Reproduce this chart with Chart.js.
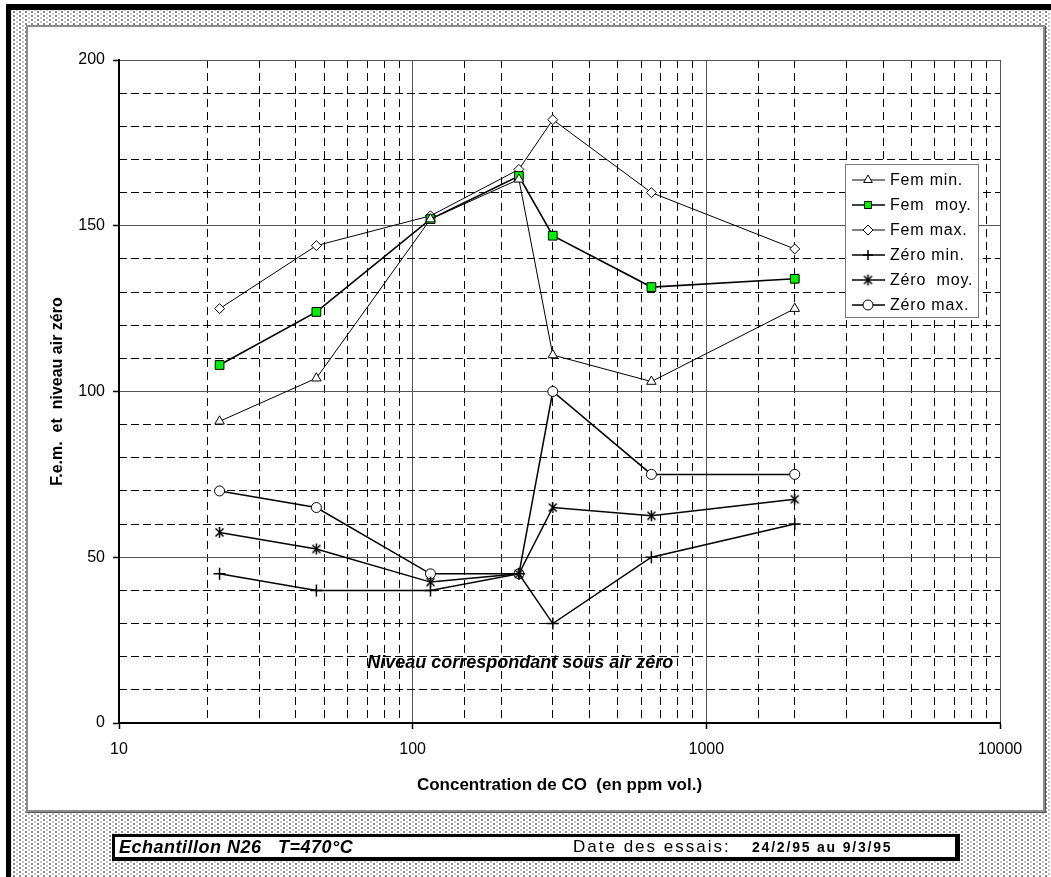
<!DOCTYPE html>
<html>
<head>
<meta charset="utf-8">
<script src="https://cdn.jsdelivr.net/npm/chart.js@4.4.1/dist/chart.umd.min.js"></script>
<style>
    html, body { margin: 0; padding: 0; }
    body {
        width: 1051px; height: 877px; position: relative; overflow: hidden; background: #fff;
        font-family: 'Liberation Sans', Arial, sans-serif;
    }
    #dots {
        position: absolute; left: 6px; top: 4px; width: 1045px; height: 873px;
        background-color: #fff;
        background-image: radial-gradient(circle, #8a8a8a 0.8px, transparent 1px),
                          radial-gradient(circle, #c4c4c4 0.8px, transparent 1px);
        background-size: 6px 4px, 6px 4px;
        background-position: 0 0, 3px 2px;
        border-top: 6px solid #000; border-left: 5px solid #000;
    }
    #panel {
        position: absolute; left: 26px; top: 25px; width: 1015px; height: 783px;
        background: #fff; border: 2px solid #8c8c8c; box-shadow: 1px 1px 0 #555;
    }
    #info {
        position: absolute; left: 112px; top: 834px; width: 840px; height: 20px;
        background: #fff; border: 3px solid #000; border-right-width: 5px; border-bottom-width: 4px;
        white-space: pre; color: #000;
    }
    #info span { position: absolute; top: 0; line-height: 20px; }
    #chart { position: absolute; left: 0; top: 0; }
</style>
</head>
<body>
<div id="dots"></div>
<div id="panel"></div>
<canvas id="chart" width="1051" height="877"></canvas>
<div id="info">
    <span style="left:4px; font-weight:bold; font-style:italic; font-size:18px; letter-spacing:0.5px;">Echantillon N26   T=470°C</span>
    <span style="left:458px; font-size:17px; letter-spacing:2px;">Date des essais:</span>
    <span style="left:637px; font-weight:bold; font-size:14px; letter-spacing:1.8px;">24/2/95 au 9/3/95</span>
</div>
<script>
// données
const concentrations = [22, 47, 115, 230, 300, 650, 2000];
const femMin = [91, 104, 152, 164, 111, 103, 125];
const femMoy = [108, 124, 152, 165, 147, 131.5, 134];
const femMax = [125, 144, 153, 167, 182, 160, 143];
const zeroMin = [45, 40, 40, 45, 30, 50, 60];
const zeroMoy = [57.5, 52.5, 42.5, 45, 65, 62.5, 67.5];
const zeroMax = [70, 65, 45, 45, 100, 75, 75];
const seriesNames = ['Fem min.', 'Fem  moy.', 'Fem max.', 'Zéro min.', 'Zéro  moy.', 'Zéro max.'];
const xTickLabels = [10, 100, 1000, 10000];
const yTickLabels = [0, 50, 100, 150, 200];
const noteText = 'Niveau correspondant sous air zéro';

const FONT = "'Liberation Sans', Arial, sans-serif";
Chart.defaults.font.family = FONT;
Chart.defaults.color = '#000';

// marqueur « astérisque » (X + trait vertical) comme dans Excel
const asterisk = document.createElement('canvas');
asterisk.width = 13;
asterisk.height = 13;
(function () {
    const c = asterisk.getContext('2d');
    c.strokeStyle = '#000';
    c.lineWidth = 1.5;
    c.beginPath();
    c.moveTo(2.5, 2.5); c.lineTo(10.5, 10.5);
    c.moveTo(10.5, 2.5); c.lineTo(2.5, 10.5);
    c.moveTo(6.5, 1); c.lineTo(6.5, 12);
    c.stroke();
})();

const pts = vals => concentrations.map((c, i) => ({ x: c, y: vals[i] }));

function serie(i, vals, style, extra) {
    return Object.assign({
        label: seriesNames[i],
        data: pts(vals),
        xAxisID: 'x',
        yAxisID: 'y',
        borderColor: '#000',
        borderWidth: 1,
        pointStyle: style,
        pointRadius: 5,
        pointBorderColor: '#000',
        pointBackgroundColor: '#fff',
        pointBorderWidth: 1,
        tension: 0,
        fill: false,
    }, extra || {});
}

const datasets = [
    serie(0, femMin, 'triangle', { pointRadius: 5.5 }),
    serie(1, femMoy, 'rect', { borderWidth: 1.6, pointRadius: 6.2, pointBackgroundColor: '#00f000' }),
    serie(2, femMax, 'rectRot', { pointRadius: 5 }),
    serie(3, zeroMin, 'cross', { borderWidth: 1.5, pointRadius: 6, pointBorderWidth: 1.5 }),
    serie(4, zeroMoy, asterisk, { borderWidth: 1.5, pointRadius: 6, pointBorderWidth: 1.5 }),
    serie(5, zeroMax, 'circle', { borderWidth: 1.5, pointRadius: 5 }),
];

// légende encadrée dans la zone du tracé
const boxLegend = {
    id: 'boxLegend',
    afterDraw(chart) {
        const ctx = chart.ctx;
        const L = 845, T = 164, W = 133, H = 153;
        ctx.save();
        ctx.fillStyle = '#fff';
        ctx.fillRect(L, T, W, H);
        ctx.strokeStyle = '#777';
        ctx.lineWidth = 1;
        ctx.strokeRect(L + 0.5, T + 0.5, W, H);
        chart.data.datasets.forEach((ds, i) => {
            const y = 180 + i * 25;
            ctx.strokeStyle = '#000';
            ctx.lineWidth = ds.borderWidth;
            ctx.beginPath();
            ctx.moveTo(852, y);
            ctx.lineTo(885, y);
            ctx.stroke();
            ctx.fillStyle = ds.pointBackgroundColor;
            ctx.lineWidth = ds.pointBorderWidth;
            Chart.helpers.drawPoint(ctx, {
                pointStyle: ds.pointStyle,
                radius: Math.min(ds.pointRadius, 5),
                borderWidth: ds.pointBorderWidth,
                rotation: 0,
            }, 868, y);
            ctx.fillStyle = '#000';
            ctx.font = '16px ' + FONT;
            ctx.letterSpacing = '0.8px';
            ctx.textBaseline = 'middle';
            ctx.textAlign = 'left';
            ctx.fillText(ds.label, 890, y + 1);
            ctx.letterSpacing = '0px';
        });
        ctx.restore();
    },
};

// texte « Niveau correspondant sous air zéro »
const noteLabel = {
    id: 'noteLabel',
    afterDatasetsDraw(chart) {
        const ctx = chart.ctx;
        const xs = chart.scales.x, ys = chart.scales.y;
        ctx.save();
        ctx.font = 'italic bold 18px ' + FONT;
        ctx.fillStyle = '#000';
        ctx.textAlign = 'left';
        ctx.textBaseline = 'middle';
        ctx.fillText(noteText, xs.getPixelForValue(70), ys.getPixelForValue(18));
        ctx.restore();
    },
};

new Chart(document.getElementById('chart'), {
    type: 'line',
    data: { datasets },
    options: {
        responsive: false,
        animation: false,
        layout: { padding: { left: 27, top: 60, right: 51, bottom: 67 } },
        plugins: { legend: { display: false }, tooltip: { enabled: false } },
        scales: {
            x: {
                type: 'logarithmic',
                position: 'bottom',
                min: 10,
                max: 10000,
                afterBuildTicks: s => { s.ticks = xTickLabels.map(v => ({ value: v })); },
                afterFit: s => { s.height = 87; },
                ticks: {
                    autoSkip: false, maxRotation: 0, padding: 11,
                    font: { size: 16 },
                    callback: v => String(v),
                },
                grid: { color: '#555', lineWidth: 1, tickLength: 6, tickColor: '#000', tickWidth: 1.5 },
                border: { color: '#000', width: 2 },
                title: {
                    display: true,
                    text: 'Concentration de CO  (en ppm vol.)',
                    font: { size: 17, weight: 'bold' },
                    padding: { top: 0, bottom: 14 },
                },
            },
            xm: {
                type: 'logarithmic',
                position: 'bottom',
                min: 10,
                max: 10000,
                afterBuildTicks: s => { s.ticks = s.ticks.filter(t => !xTickLabels.includes(t.value)); },
                afterFit: s => { s.height = 0; },
                ticks: { display: false },
                grid: { color: '#000', lineWidth: 1, drawTicks: false },
                border: { display: false, dash: [8, 5] },
            },
            y: {
                min: 0,
                max: 200,
                afterBuildTicks: s => { s.ticks = yTickLabels.map(v => ({ value: v })); },
                afterFit: s => { s.width = 92; },
                ticks: { padding: 8, font: { size: 16 } },
                grid: { color: '#555', lineWidth: 1, tickLength: 6, tickColor: '#000', tickWidth: 1.5 },
                border: { color: '#000', width: 2 },
                title: {
                    display: true,
                    text: 'F.e.m.  et  niveau air zéro',
                    font: { size: 16, weight: 'bold' },
                    padding: { top: 21, bottom: 0 },
                },
            },
            ym: {
                min: 0,
                max: 200,
                ticks: { display: false, stepSize: 10 },
                afterBuildTicks: s => { s.ticks = s.ticks.filter(t => t.value % 50 !== 0); },
                afterFit: s => { s.width = 0; },
                grid: { color: '#000', lineWidth: 1, drawTicks: false },
                border: { display: false, dash: [8, 4] },
            },
        },
    },
    plugins: [noteLabel, boxLegend],
});
</script>
</body>
</html>
